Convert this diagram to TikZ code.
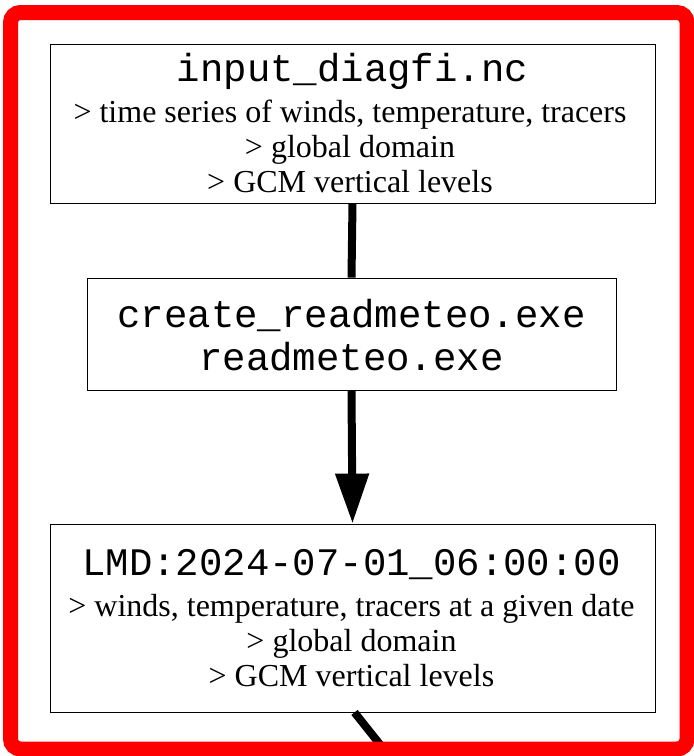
\documentclass[tikz,border=0pt]{standalone}
\usepackage{fontspec}
\setmainfont{Liberation Serif}
\newfontfamily\monof{Liberation Mono}
\usetikzlibrary{arrows.meta}
\begin{document}
\begin{tikzpicture}[x=1pt,y=1pt,
  box/.style={draw=black, line width=0.8pt, fill=white, inner sep=0pt, align=center},
  mono/.style={font=\monof\fontsize{39}{43}\selectfont},
  serif/.style={font=\fontsize{32}{35}\selectfont, align=center, inner sep=0pt},
  conn/.style={line width=8pt, black}]
\useasboundingbox (0,0) rectangle (694,-756);
\node[box, minimum width=605pt, minimum height=159pt] (b1) at (352.5,-123.5) {};
\node[box, minimum width=529pt, minimum height=112pt] (b2) at (351.5,-334) {};
\node[box, minimum width=605pt, minimum height=188pt] (b3) at (352.5,-618) {};
% texts
\node[mono, inner sep=0pt] (t1) at (352.5,-71) {input\_diagfi.nc};
\node[serif] (t1b) at (350,-146) {{>} time series of winds, temperature, tracers\\ {>} global domain\\ {>} GCM vertical levels};
\node[mono, align=center, inner sep=0pt] (t2) at (351.5,-335) {create\_readmeteo.exe\\readmeteo.exe};
\node[mono, inner sep=0pt] (t3) at (351.5,-565) {LMD:2024-07-01\_06:00:00};
\node[serif] (t3b) at (351.5,-641) {{>} winds, temperature, tracers at a given date\\ {>} global domain\\ {>} GCM vertical levels};
% connectors
\draw[conn] (b1.south) -- (b2.north);
\draw[conn, -{Triangle[width=32pt,length=50pt]}] (b2.south) -- (b3.north);
\coordinate (out) at (386,-752);
\draw[conn] ([xshift=2pt]b3.south) -- (out);
% red frame
\draw[red, line width=15pt, rounded corners=10pt] (10.5,-12.5) rectangle (687,-749);
\end{tikzpicture}
\end{document}
